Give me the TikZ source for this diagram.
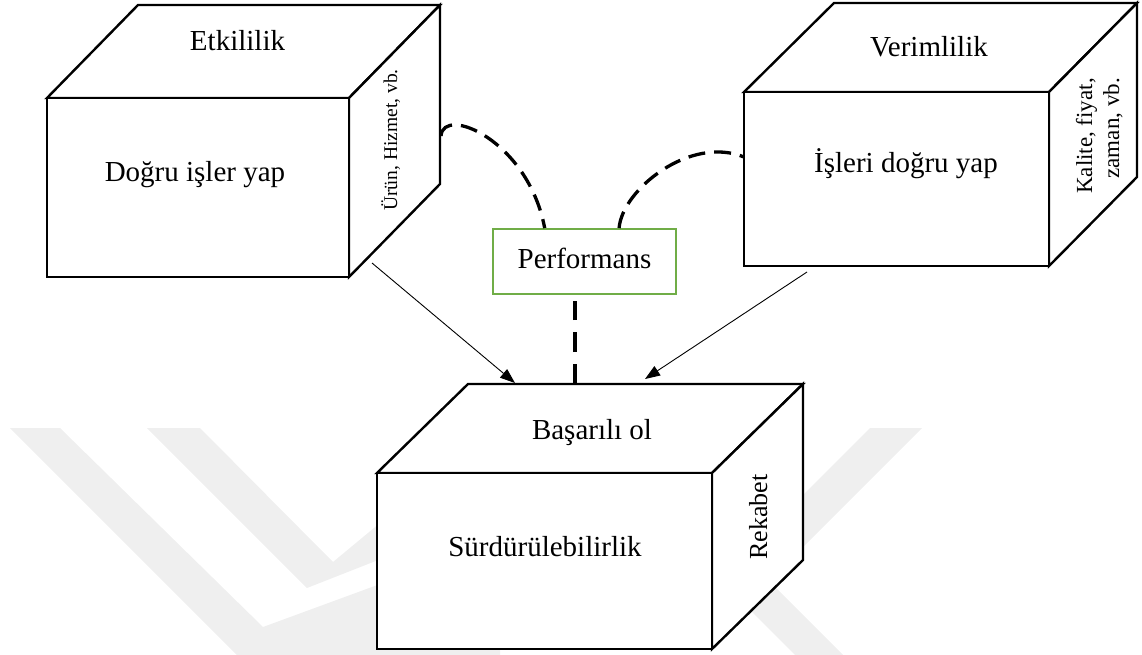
\documentclass[tikz,border=0pt]{standalone}
\usepackage{fontspec}
\setmainfont{Liberation Serif}
\usetikzlibrary{arrows.meta,calc}
\definecolor{wmgray}{RGB}{239,239,239}
\definecolor{perfgreen}{RGB}{112,173,71}

\begin{document}
\begin{tikzpicture}[x=1pt,y=-1pt,
  face/.style={draw=black, line width=2.4pt, fill=white, line join=miter},
  lbl/.style={font=\fontsize{29}{34}\selectfont, inner sep=0pt, anchor=base},
  sidelbl/.style={font=\fontsize{19.5}{24}\selectfont, inner sep=0pt, rotate=90},
  sidelblb/.style={font=\fontsize{23}{28}\selectfont, inner sep=0pt, rotate=90},
  sidelblc/.style={font=\fontsize{26}{30}\selectfont, inner sep=0pt, rotate=90},
  perfbox/.style={draw=perfgreen, line width=1.8pt, fill=white, inner sep=0pt,
    minimum width=183pt, minimum height=65pt, text height=20pt, text depth=7pt,
    font=\fontsize{29}{34}\selectfont},
  link/.style={line width=3.3pt, dash pattern=on 17pt off 9pt},
  linkv/.style={line width=3.3pt, dash pattern=on 20pt off 12pt},
  flow/.style={line width=0.9pt, -{Triangle[length=15pt,width=11pt]}},
  wm/.style={fill=wmgray, draw=none}]
\useasboundingbox (0,0) rectangle (1142,655);

% faint background logo
\begin{scope}
  \clip (0,0) rectangle (1142,655);
  \fill[wm] (10,428) -- (60,428) -- (263,627) -- (500,540) -- (500,700) -- (282,700) -- cycle;
  \fill[wm] (147,428) -- (200,428) -- (333,562) -- (480,440) -- (480,520) -- (307,588) -- cycle;
  \fill[wm] (870,428) -- (922,428) -- (730,620) -- (730,568) -- cycle;
  \fill[wm] (760,572) -- (860,672) -- (812,672) -- (730,590) -- cycle;
\end{scope}

% corner points of the three cuboids
\coordinate (b1ftl) at (47,98);   \coordinate (b1ftr) at (349,98);
\coordinate (b1fbr) at (349,277); \coordinate (b1btl) at (138,5);
\coordinate (b1btr) at (440,5);   \coordinate (b1bbr) at (440,184);

\coordinate (b2ftl) at (744,92);   \coordinate (b2ftr) at (1049,92);
\coordinate (b2fbr) at (1049,266); \coordinate (b2btl) at (834,3);
\coordinate (b2btr) at (1137,3);   \coordinate (b2bbr) at (1137,177);

\coordinate (b3ftl) at (377,473); \coordinate (b3ftr) at (712,473);
\coordinate (b3fbr) at (712,649); \coordinate (b3btl) at (468,384);
\coordinate (b3btr) at (803,384); \coordinate (b3bbr) at (803,560);

% cuboids: top face, side face, front face
\foreach \b in {b1,b2,b3}{
  \draw[face] (\b ftl) -- (\b btl) -- (\b btr) -- (\b ftr) -- cycle;
  \draw[face] (\b ftr) -- (\b btr) -- (\b bbr) -- (\b fbr) -- cycle;
  \draw[face] (\b ftl) rectangle (\b fbr);
}

% labels of the first cuboid
\node[lbl] (t1) at (237.5,51) {Etkililik};
\node[lbl] (f1) at (195,182) {Doğru işler yap};
\node[sidelbl, anchor=base] (s1) at (397,140) {Ürün, Hizmet, vb.};

% labels of the second cuboid
\node[lbl] (t2) at (929,57) {Verimlilik};
\node[lbl] (f2) at (906,172) {İşleri doğru yap};
\node[sidelblb, anchor=base east] (s2a) at (1092,78) {Kalite, fiyat,};
\node[sidelblb, anchor=base east] (s2b) at (1119,78) {zaman, vb.};

% labels of the third cuboid
\node[lbl] (t3) at (592,439) {Başarılı ol};
\node[lbl] (f3) at (545,556) {Sürdürülebilirlik};
\node[sidelblc, anchor=base] (s3) at (767,517) {Rekabet};

% performance box
\node[perfbox] (perf) at (584.5,261.5) {Performans};

% dashed links
\coordinate (c1s) at (441,136);
\draw[link] (c1s) .. controls (443,105) and (528,140) .. (perf.140.5);
\coordinate (c2e) at (744,157);
\draw[link] (perf.44) .. controls (622,190) and (690,135) .. (c2e);
\coordinate (pb) at ($(perf.south)+(-9.5,0)$);
\draw[linkv] (pb |- b3btl) -- ($(pb)+(0,6)$);

% arrows into the third cuboid
\coordinate (a1s) at (372,263); \coordinate (a1e) at (515,383);
\draw[flow] (a1s) -- (a1e);
\coordinate (a2s) at (807,272); \coordinate (a2e) at (645,379);
\draw[flow] (a2s) -- (a2e);
\end{tikzpicture}
\end{document}
